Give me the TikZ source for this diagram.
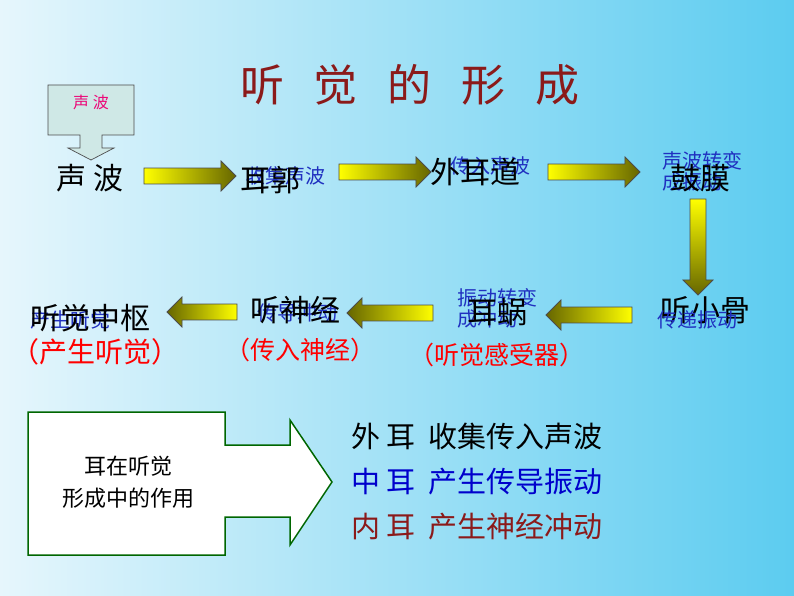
\documentclass[tikz,border=0pt]{standalone}
\usepackage{fontspec}
\setmainfont{Noto Sans CJK SC}
\usetikzlibrary{shapes.arrows}
\definecolor{tred}{HTML}{8B1A1A}
\definecolor{lblue}{HTML}{2030C0}
\definecolor{bgl}{HTML}{E6F6FC}
\definecolor{bgr}{HTML}{5CCCF0}
\definecolor{cfill}{HTML}{CFE8E6}
\begin{document}
\begin{tikzpicture}[x=1pt,y=-1pt,
  yarrow/.style={single arrow, draw=black!70, line width=0.8pt, minimum height=92pt, minimum width=30pt, single arrow head extend=7pt, inner sep=7.5pt},
  big/.style={font=\fontsize{30}{32}\selectfont},
  sm/.style={font=\fontsize{20}{21}\selectfont, text=lblue, align=left, inner sep=0pt},
  red/.style={font=\fontsize{25}{26}\selectfont, text=red},
  every node/.style={inner sep=1pt}]
\shade[left color=bgl, right color=bgr] (0,0) rectangle (794,596);
\useasboundingbox (0,0) rectangle (794,596);
\node (title) at (410,85) {\fontsize{44}{46}\selectfont\color{tred}听\hspace{30pt}觉\hspace{30pt}的\hspace{30pt}形\hspace{30pt}成};
% callout
\draw[black!70, fill=cfill, line width=0.7pt] (48,85) -- (134,85) -- (134,135) -- (102,135) -- (102,148) -- (114,148) -- (91,160) -- (68,148) -- (80,148) -- (80,135) -- (48,135) -- cycle;
\node (cw) at (91,102) {\fontsize{16}{17}\selectfont\color{magenta!80!red}声\ 波};
% texts
\node[big] (sb) at (90,178) {声\ 波};
\node[sm] (s1) at (285,176) {收集声波};
\node[big] (eg) at (270,180) {耳郭};
\node[sm] (s2) at (490,166) {传入声波};
\node[big] (wed) at (475,172) {外耳道};
\node[sm] (s3) at (702,171) {声波转变\\成振动};
\node[big] (gm) at (700,178) {鼓膜};
\node[big] (txg) at (705,310) {听小骨};
\node[sm] (s4) at (697,320) {传递振动};
\node[sm] (s5) at (497,308) {振动转变\\成冲动};
\node[big] (ew) at (497,312) {耳蜗};
\node[sm] (s6) at (297,313) {传导冲动};
\node[big] (tsj) at (295,310) {听神经};
\node[sm] (s7) at (70,320) {产生听觉};
\node[big] (tjzs) at (90,318) {听觉中枢};
\node[red, font=\fontsize{28}{29}\selectfont] (r1) at (95,352) {（产生听觉）};
\node[red] (r2) at (300,350) {（传入神经）};
\node[red] (r3) at (497,355) {（听觉感受器）};
% arrows
\tikzset{
  rarrow/.style={yarrow, left color=yellow, right color=yellow!40!black},
  larrow/.style={yarrow, right color=yellow, left color=yellow!40!black},
}
\node[rarrow] (a1) at (186,176) {};
\node[rarrow] (a2) at (381,172) {};
\node[rarrow] (a3) at (590,172) {};
\node[yarrow, shape border rotate=270, minimum height=96pt, top color=yellow, bottom color=yellow!40!black] (a4) at (698,243) {};
\node[larrow, shape border rotate=180, minimum height=86pt] (a5) at (593,315) {};
\node[larrow, shape border rotate=180, minimum height=86pt] (a6) at (394,313) {};
\node[larrow, shape border rotate=180, minimum height=70pt] (a7) at (206,312) {};
% bottom
\draw[green!40!black, line width=1.5pt, fill=white] (28,412) -- (225,412) -- (225,445) -- (290,445) -- (290,420) -- (332,482) -- (290,545) -- (290,517) -- (225,517) -- (225,555) -- (28,555) -- cycle;
\node[align=center, font=\fontsize{22}{32}\selectfont] (role) at (128,482) {耳在听觉\\形成中的作用};
\node[anchor=west, font=\fontsize{29}{30}\selectfont] (l1) at (350,437) {外\ 耳\ \ 收集传入声波};
\node[anchor=west, font=\fontsize{29}{30}\selectfont, text=blue!80!black] (l2) at (350,482) {中\ 耳\ \ 产生传导振动};
\node[anchor=west, font=\fontsize{29}{30}\selectfont, text=tred] (l3) at (350,527) {内\ 耳\ \ 产生神经冲动};
\end{tikzpicture}
\end{document}
